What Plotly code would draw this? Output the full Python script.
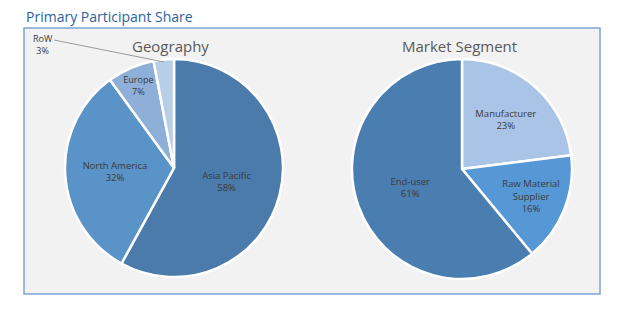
import plotly.graph_objects as go

W, H = 642, 317

geo_labels = ["Asia Pacific", "North America", "Europe", "RoW"]
geo_values = [58, 32, 7, 3]
geo_colors = ["#4a7bab", "#5a93c7", "#8eb0d8", "#b8cde6"]

seg_labels = ["Manufacturer", "Raw Material Supplier", "End-user"]
seg_text = ["Manufacturer", "Raw Material<br>Supplier", "End-user"]
seg_values = [23, 16, 61]
seg_colors = ["#a9c4e6", "#5698d6", "#4a7db0"]

def px_x(v):
    return v / W

def px_y(v):
    return 1 - v / H

fig = go.Figure()

fig.add_trace(go.Pie(
    labels=geo_labels, values=geo_values, text=geo_labels,
    sort=False, direction="clockwise", rotation=0,
    marker=dict(colors=geo_colors, line=dict(color="white", width=2.5)),
    texttemplate="%{text}<br>%{value}%",
    textposition=["inside", "inside", "inside", "none"],
    insidetextorientation="horizontal",
    textfont=dict(family="Open Sans", size=9.5, color="#3a3a3a"),
    domain=dict(x=[px_x(65), px_x(283)], y=[px_y(277), px_y(59)]),
    showlegend=False, hoverinfo="label+percent",
))

fig.add_trace(go.Pie(
    labels=seg_labels, values=seg_values, text=seg_text,
    sort=False, direction="clockwise", rotation=0,
    marker=dict(colors=seg_colors, line=dict(color="white", width=2.5)),
    texttemplate="%{text}<br>%{value}%",
    textposition="inside",
    insidetextorientation="horizontal",
    textfont=dict(family="Open Sans", size=9.5, color="#3a3a3a"),
    domain=dict(x=[px_x(352), px_x(572)], y=[px_y(279), px_y(59)]),
    showlegend=False, hoverinfo="label+percent",
))

shapes = [
    dict(type="rect", xref="paper", yref="paper",
         x0=px_x(24), x1=px_x(600), y0=px_y(294), y1=px_y(28),
         fillcolor="#f2f2f2", line=dict(color="#7ba7d4", width=1.5), layer="below"),
    dict(type="line", xref="paper", yref="paper",
         x0=px_x(54), y0=px_y(40), x1=px_x(164), y1=px_y(62),
         line=dict(color="#9a9a9a", width=1)),
]

annotations = [
    dict(text="Primary Participant Share", x=px_x(24), y=px_y(16), xref="paper", yref="paper",
         xanchor="left", yanchor="middle", showarrow=False,
         font=dict(family="Open Sans", size=14, color="#2a62a0")),
    dict(text="Geography", x=px_x(171), y=px_y(46), xref="paper", yref="paper",
         xanchor="center", yanchor="middle", showarrow=False,
         font=dict(family="Open Sans", size=15, color="#595959")),
    dict(text="Market Segment", x=px_x(459), y=px_y(46), xref="paper", yref="paper",
         xanchor="center", yanchor="middle", showarrow=False,
         font=dict(family="Open Sans", size=15, color="#595959")),
    dict(text=f"{geo_labels[3]}<br>{geo_values[3]}%", x=px_x(43), y=px_y(44), xref="paper", yref="paper",
         xanchor="center", yanchor="middle", showarrow=False,
         font=dict(family="Open Sans", size=9, color="#3a3a3a")),
]

fig.update_layout(
    width=W, height=H,
    margin=dict(l=0, r=0, t=0, b=0),
    paper_bgcolor="white", plot_bgcolor="white",
    shapes=shapes, annotations=annotations,
)

fig.write_html("out.html")
